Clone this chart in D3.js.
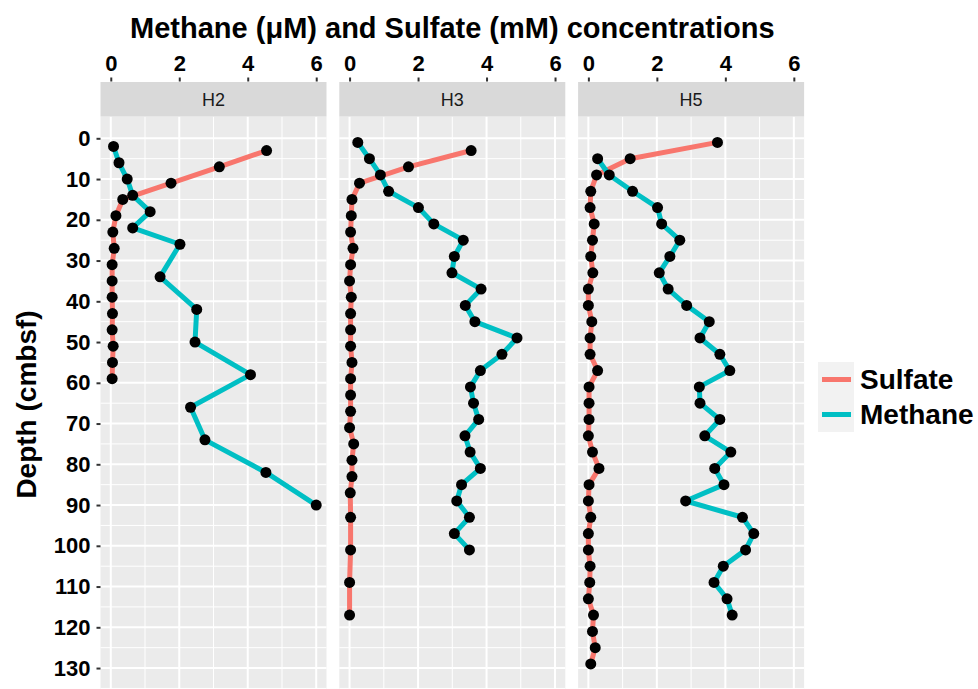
<!DOCTYPE html>
<html>
<head>
<meta charset="utf-8">
<script src="https://cdn.jsdelivr.net/npm/d3@7"></script>
<style>
  body { margin: 0; background: #fff; }
  svg { display: block; font-family: "Liberation Sans", Arial, Helvetica, sans-serif; }
</style>
</head>
<body>
<script>
// [depth (cmbsf), concentration]
const h2Sulfate = [[3,4.55],[7,3.17],[11,1.76],[15,0.35],[19,0.15],[23,0.06],[27,0.10],[31,0.04],
  [35,0.04],[39,0.04],[43,0.05],[47,0.04],[51,0.07],[55,0.05],[59,0.04]];
const h2Methane = [[2,0.08],[6,0.24],[10,0.48],[14,0.64],[18,1.15],[22,0.64],[26,2.02],[34,1.44],
  [42,2.51],[50,2.46],[58,4.08],[66,2.33],[74,2.75],[82,4.53],[90,6.0]];

const h3Sulfate = [[3,3.55],[7,1.72],[11,0.29],[15,0.07],[19,0.05],[23,0.03],[27,0.10],[31,0.03],
  [35,0.0],[39,0.05],[43,0.03],[47,0.03],[51,0.03],[55,0.07],[59,0.03],[63,0.03],[67,0.03],
  [71,0.0],[75,0.12],[79,0.07],[83,0.07],[87,0.02],[93,0.03],[101,0.03],[109,0.0],[117,0.0]];
const h3Methane = [[1,0.24],[5,0.58],[9,0.90],[13,1.14],[17,2.01],[21,2.46],[25,3.32],[29,3.06],
  [33,2.99],[37,3.84],[41,3.38],[45,3.66],[49,4.89],[53,4.45],[57,3.82],[61,3.53],[65,3.62],
  [69,3.77],[73,3.37],[77,3.52],[81,3.82],[85,3.27],[89,3.13],[93,3.50],[97,3.06],[101,3.50]];

const h5Sulfate = [[1,3.77],[5,1.22],[9,0.24],[13,0.07],[17,0.05],[21,0.17],[25,0.12],[29,0.07],
  [33,0.13],[37,0.0],[41,0.0],[45,0.10],[49,0.05],[53,0.05],[57,0.27],[61,0.02],[65,0.02],
  [69,0.02],[73,0.0],[77,0.12],[81,0.31],[85,0.02],[89,0.0],[93,0.07],[97,0.0],[101,0.0],
  [105,0.05],[109,0.04],[113,0.0],[117,0.15],[121,0.12],[125,0.2],[129,0.07]];
const h5Methane = [[5,0.27],[9,0.61],[13,1.29],[17,2.02],[21,2.14],[25,2.67],[29,2.38],[33,2.07],
  [37,2.33],[41,2.87],[45,3.53],[49,3.26],[53,3.84],[57,4.13],[61,3.24],[65,3.26],[69,3.84],
  [73,3.40],[77,4.16],[81,3.69],[85,3.96],[89,2.84],[93,4.50],[97,4.83],[101,4.59],[105,3.94],
  [109,3.67],[113,4.05],[117,4.20]];

const cores = ['H2', 'H3', 'H5'];
const sulfateByCore = [h2Sulfate, h3Sulfate, h5Sulfate];
const methaneByCore = [h2Methane, h3Methane, h5Methane];

const seriesNames = ['Sulfate', 'Methane'];
const seriesColors = ['#F8766D', '#00BFC4'];

const xTicks = [0, 2, 4, 6];
const xMinor = [1, 3, 5];
const yTicks = [0, 10, 20, 30, 40, 50, 60, 70, 80, 90, 100, 110, 120, 130];
const yMinor = [5, 15, 25, 35, 45, 55, 65, 75, 85, 95, 105, 115, 125, 135];

const width = 978;
const height = 689;
const panelW = 226;
const panelGap = 12.8;
const panelLeft = 100.5;
const panelTop = 116.5;
const panelBottom = 692.5;
const stripTop = 82;

const yScale = d3.scaleLinear([-5.35, 136], [panelTop, panelBottom]);

const svg = d3.create('svg')
  .attr('width', width)
  .attr('height', height);

const line = (xs) => d3.line()
  .x(d => xs(d[1]))
  .y(d => yScale(d[0]));

cores.forEach((core, i) => {
  const left = panelLeft + i * (panelW + panelGap);
  const xScale = d3.scaleLinear([-0.3, 6.3], [left, left + panelW]);
  const g = svg.append('g');

  // panel background and grid
  g.append('rect')
    .attr('x', left).attr('y', panelTop)
    .attr('width', panelW).attr('height', panelBottom - panelTop)
    .attr('fill', '#ebebeb');

  g.selectAll('.xminor').data(xMinor).join('line')
    .attr('x1', d => xScale(d)).attr('x2', d => xScale(d))
    .attr('y1', panelTop).attr('y2', panelBottom)
    .attr('stroke', '#fff').attr('stroke-width', 1);
  g.selectAll('.yminor').data(yMinor).join('line')
    .attr('x1', left).attr('x2', left + panelW)
    .attr('y1', d => yScale(d)).attr('y2', d => yScale(d))
    .attr('stroke', '#fff').attr('stroke-width', 1);
  g.selectAll('.xmajor').data(xTicks).join('line')
    .attr('x1', d => xScale(d)).attr('x2', d => xScale(d))
    .attr('y1', panelTop).attr('y2', panelBottom)
    .attr('stroke', '#fff').attr('stroke-width', 2);
  g.selectAll('.ymajor').data(yTicks).join('line')
    .attr('x1', left).attr('x2', left + panelW)
    .attr('y1', d => yScale(d)).attr('y2', d => yScale(d))
    .attr('stroke', '#fff').attr('stroke-width', 2);

  // strip
  g.append('rect')
    .attr('x', left).attr('y', stripTop)
    .attr('width', panelW).attr('height', panelTop - stripTop)
    .attr('fill', '#d9d9d9');
  g.append('text')
    .attr('x', left + panelW / 2).attr('y', (stripTop + panelTop) / 2)
    .attr('dy', '0.36em')
    .attr('text-anchor', 'middle')
    .attr('font-size', 18)
    .attr('fill', '#1a1a1a')
    .text(core);

  // top x-axis above the strip
  const gx = svg.append('g')
    .attr('transform', `translate(0, ${stripTop - 0.5})`)
    .call(d3.axisTop(xScale).tickValues(xTicks).tickFormat(d3.format('d'))
      .tickSize(4).tickPadding(7));
  gx.select('.domain').remove();
  gx.selectAll('line').attr('stroke', '#333').attr('stroke-width', 2);
  gx.selectAll('text')
    .attr('font-size', 22).attr('font-weight', 'bold').attr('fill', '#000')
    .attr('font-family', 'Liberation Sans, Arial, sans-serif');

  // lines then points
  const lg = g.append('g');
  [sulfateByCore[i], methaneByCore[i]].forEach((series, s) => {
    lg.append('path')
      .attr('d', line(xScale)(series))
      .attr('fill', 'none')
      .attr('stroke', seriesColors[s])
      .attr('stroke-width', 5)
      .attr('stroke-linejoin', 'round');
  });
  [sulfateByCore[i], methaneByCore[i]].forEach(series => {
    lg.selectAll(null).data(series).join('circle')
      .attr('cx', d => xScale(d[1]))
      .attr('cy', d => yScale(d[0]))
      .attr('r', 5.5)
      .attr('fill', '#000');
  });
});

// y-axis
const gy = svg.append('g')
  .attr('transform', `translate(${panelLeft}, 0)`)
  .call(d3.axisLeft(yScale).tickValues(yTicks).tickSize(4).tickPadding(6));
gy.select('.domain').remove();
gy.selectAll('line').attr('stroke', '#333').attr('stroke-width', 2);
gy.selectAll('text')
  .attr('font-size', 22).attr('font-weight', 'bold').attr('fill', '#000')
  .attr('font-family', 'Liberation Sans, Arial, sans-serif');

// titles
const panelsRight = panelLeft + 3 * panelW + 2 * panelGap;
svg.append('text')
  .attr('x', (panelLeft + panelsRight) / 2).attr('y', 38)
  .attr('text-anchor', 'middle')
  .attr('font-size', 29).attr('font-weight', 'bold')
  .text('Methane (μM) and Sulfate (mM) concentrations');

svg.append('text')
  .attr('transform', `translate(36, ${(panelTop + panelBottom) / 2}) rotate(-90)`)
  .attr('text-anchor', 'middle')
  .attr('font-size', 28).attr('font-weight', 'bold')
  .text('Depth (cmbsf)');

// legend
const legend = svg.append('g').attr('transform', 'translate(818, 362)');
seriesNames.forEach((name, s) => {
  legend.append('rect')
    .attr('x', 0).attr('y', s * 35)
    .attr('width', 36).attr('height', 35)
    .attr('fill', '#f2f2f2');
  legend.append('line')
    .attr('x1', 4).attr('x2', 33)
    .attr('y1', s * 35 + 17.5).attr('y2', s * 35 + 17.5)
    .attr('stroke', seriesColors[s]).attr('stroke-width', 5);
  legend.append('text')
    .attr('x', 42).attr('y', s * 35 + 17.5)
    .attr('dy', '0.35em')
    .attr('font-size', 28).attr('font-weight', 'bold')
    .text(name);
});

document.body.appendChild(svg.node());
</script>
</body>
</html>
